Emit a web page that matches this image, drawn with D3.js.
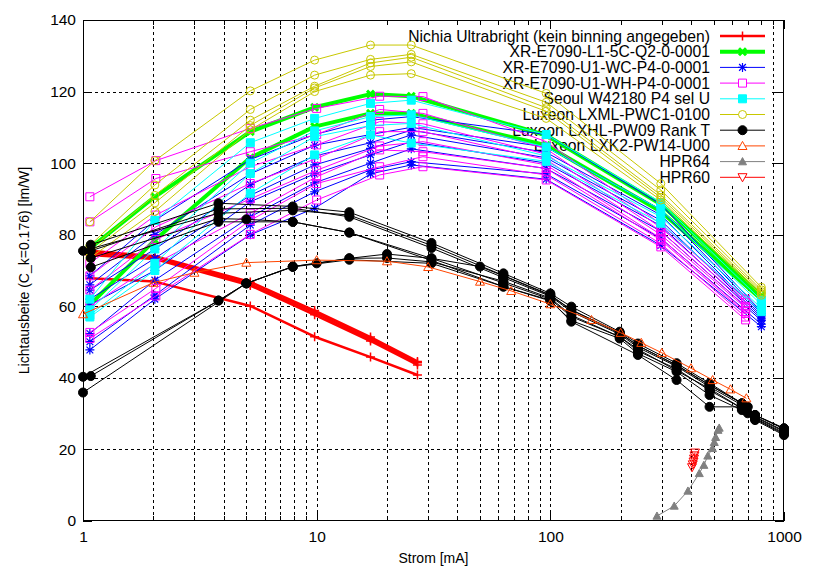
<!DOCTYPE html>
<html><head><meta charset="utf-8">
<script src="https://cdn.jsdelivr.net/npm/d3@7"></script>
<style>body{margin:0;background:#fff} svg{display:block} text{font-family:"Liberation Sans",Arial,Helvetica,sans-serif;fill:#000}</style>
</head><body><svg id="c" width="813" height="570"></svg>
<script>
// ---------------- data ----------------
const seriesNames = [
  "Nichia Ultrabright (kein binning angegeben)",
  "XR-E7090-L1-5C-Q2-0-0001",
  "XR-E7090-U1-WC-P4-0-0001",
  "XR-E7090-U1-WH-P4-0-0001",
  "Seoul W42180 P4 sel U",
  "Luxeon LXML-PWC1-0100",
  "Luxeon LXHL-PW09 Rank T",
  "Luxeon LXK2-PW14-U00",
  "HPR64",
  "HPR60"
];
const yTicks = [0, 20, 40, 60, 80, 100, 120, 140];
const xTickLabels = [1, 10, 100, 1000];

const nichiaCurrents = [1.07, 2.03, 5.2, 9.8, 17, 27];
const nichiaRuns = [
  [75.5, 74.0, 66.8, 58.8, 51.4, 44.6],
  [75.0, 73.6, 66.2, 58.2, 50.8, 44.2],
  [74.3, 73.2, 65.8, 57.6, 50.3, 43.6],
  [67.8, 66.9, 60.1, 51.5, 45.8, 40.8]
];
const xrCurrents = [1.07, 2.03, 5.2, 9.8, 17, 25.4, 96, 297, 800];
const whCurrents = [1.07, 2.05, 5.2, 10, 18.6, 28.5, 96, 297, 685];
const greenRuns = [
  [76.2, 90.6, 108.8, 115.6, 119.3, 118.7, 107.8, 88.5, 63.0],
  [60.4, 78.5, 101.5, 110.2, 113.9, 113.9, 105.0, 86.5, 62.0]
];
const blueRuns = [
  [68.5, 84.0, 101.0, 108.0, 112.0, 113.0, 108.0, 88.5, 58.5],
  [66.0, 80.0, 97.0, 105.0, 108.0, 110.0, 104.5, 87.0, 58.0],
  [64.5, 76.0, 94.0, 102.0, 105.7, 109.2, 103.0, 85.5, 57.5],
  [62.0, 73.4, 91.0, 99.5, 104.1, 107.9, 101.5, 84.0, 57.0],
  [60.4, 70.0, 89.2, 97.0, 102.3, 106.0, 100.0, 82.5, 56.5],
  [52.4, 67.3, 85.0, 94.5, 100.0, 104.0, 98.5, 81.0, 56.0],
  [50.1, 63.1, 82.7, 92.0, 98.1, 100.4, 97.0, 79.0, 55.0],
  [47.8, 62.0, 80.0, 87.4, 97.0, 99.5, 95.5, 77.0, 54.3]
];
const magentaRuns = [
  [90.6, 100.7, 109.7, 115.3, 118.7, 118.6, 106.0, 83.0, 62.0],
  [83.6, 95.7, 103.2, 108.0, 115.0, 113.9, 104.0, 82.0, 61.0],
  [72.0, 85.5, 99.0, 105.1, 111.6, 111.0, 102.5, 81.0, 60.0],
  [68.5, 82.2, 94.3, 101.3, 108.8, 108.8, 101.0, 80.0, 59.5],
  [64.5, 78.7, 90.0, 98.0, 104.8, 106.0, 99.5, 79.0, 58.5],
  [60.0, 72.0, 86.0, 96.2, 103.7, 103.2, 98.5, 78.5, 58.0],
  [52.7, 65.0, 84.0, 94.3, 99.0, 101.8, 96.7, 77.5, 57.0],
  [51.0, 62.9, 80.1, 89.7, 96.7, 99.0, 95.3, 76.6, 56.2]
];
const cyanRuns = [
  [62.0, 84.0, 105.7, 112.5, 116.7, 117.6, 108.0, 89.0, 61.7],
  [59.0, 76.0, 100.0, 109.0, 113.0, 113.5, 104.5, 87.0, 60.5],
  [57.5, 72.0, 97.1, 107.4, 110.5, 111.1, 102.0, 85.0, 59.5],
  [57.0, 70.0, 91.6, 102.3, 107.9, 105.6, 100.5, 83.2, 58.5]
];
const yellowRuns = [
  [83.6, 100.7, 120.2, 128.8, 133.0, 133.0, 119.5, 94.3, 65.3],
  [77.0, 93.9, 115.0, 124.6, 129.0, 130.4, 117.0, 92.5, 64.6],
  [76.0, 91.0, 112.0, 121.5, 128.0, 129.6, 115.5, 91.1, 64.1],
  [75.0, 88.9, 110.5, 121.0, 127.0, 128.3, 114.5, 90.4, 63.6],
  [73.5, 86.5, 109.3, 120.0, 124.6, 125.0, 112.5, 89.7, 63.1]
];
const blackRuns = [
  [[1.08,77.2],[3.8,88.8],[7.9,87.9],[13.8,86.3],[31,77.7],[63,69.2],[100,63.6],[123,59.9],[198,52.9],[237,49.6],[347,44.1],[480,38.5],[700,31.9],[752,29.6],[1000,25.7]],
  [[1.08,75.5],[3.8,87.2],[7.9,87.4],[13.8,85.0],[31,76.3],[63,68.0],[100,62.8],[123,58.5],[198,52.2],[237,48.5],[347,43.2],[480,37.5],[660,32.4],[752,29.2],[1000,25.2]],
  [[1.08,73.5],[3.8,84.5],[5,84.3],[7.9,83.6],[13.8,80.6],[31,73.4],[63,66.5],[100,62.0],[123,57.1],[198,51.5],[237,47.5],[347,42.5],[480,36.5],[660,31.5],[752,28.7],[1000,24.6]],
  [[1.08,70.9],[3.8,83.6],[7.9,83.6],[13.8,80.6],[31,72.8],[63,65.5],[100,61.7],[123,55.7],[237,46.4],[347,39.4],[480,31.9],[660,31.9],[700,30.1],[752,28.2],[1000,24.0]],
  [[1.0,75.5],[3.8,86.0],[7.9,86.8],[13.8,85.5],[31,77.0],[63,68.6],[100,63.2],[123,59.0],[198,52.6],[237,49.0],[347,43.6],[480,38.0],[660,32.9],[752,29.6],[1000,25.9]],
  [[1.0,40.3],[3.8,61.6],[5,66.4],[7.9,71.1],[10,72.0],[13.8,73.4],[20,74.6],[31,73.4],[50,71.1],[63,68.5],[100,63.0],[123,59.0],[198,52.5],[237,49.0],[347,43.5],[480,38.0],[660,32.9],[752,29.6],[1000,25.9]],
  [[1.08,40.5],[3.8,61.6],[5,66.4],[7.9,71.1],[13.8,73.4],[20,73.5],[31,72.4],[63,67.0],[100,62.3],[123,57.5],[198,51.5],[237,48.0],[347,42.0],[480,37.0],[660,31.5],[752,29.0],[1000,25.0]],
  [[1.0,35.9],[5,66.4],[7.9,71.0],[13.8,73.0],[31,72.0],[63,65.5],[100,61.5],[123,56.0],[198,51.0],[237,46.8],[347,41.7],[480,35.2],[660,31.0],[752,28.5],[1000,24.3]]
];
const lxk2Currents = [1, 2, 3, 5, 10, 20, 30, 50, 68, 100, 150, 200, 245, 300, 400, 495, 590, 690];
const lxk2Values   = [57.8, 66.6, 69.4, 72.2, 72.9, 72.6, 71.0, 66.9, 64.3, 60.6, 56.2, 52.6, 49.8, 47.0, 42.7, 39.4, 36.8, 34.3];
const hpr64Currents = [286, 339, 388, 434, 454, 472, 494, 503, 510, 522, 528];
const hpr64Values   = [1.4, 4.2, 8.4, 13.3, 15.6, 18.2, 20.3, 22.0, 23.4, 25.4, 26.0];
const hpr60Currents = [404, 407, 410, 412, 414, 416];
const hpr60Values   = [15.0, 15.8, 16.6, 17.4, 18.3, 19.1];

// ---------------- layout ----------------
const L = 83, R = 784, T = 20, B = 521;
const keyBox = {l: 307, r: 772, t: T, b: 186};
const svg = d3.select("#c");
const x = d3.scaleLog().domain([1, 1000]).range([L, R]);
const y = d3.scaleLinear().domain([0, 140]).range([B, T]);

// grid (skips key region like gnuplot)
const gridG = svg.append("g").attr("stroke", "#000").attr("stroke-width", 1)
  .attr("stroke-dasharray", "3,3").attr("shape-rendering", "crispEdges");
const xGridVals = [];
[1, 10, 100].forEach(d => { for (let k = 1; k <= 9; k++) { const v = k * d; if (v > 1 && v < 1000) xGridVals.push(v); } });
xGridVals.forEach(v => {
  const px = Math.round(x(v)) + 0.5;
  const top = (px > keyBox.l && px < keyBox.r) ? keyBox.b : T;
  gridG.append("line").attr("x1", px).attr("x2", px).attr("y1", top).attr("y2", B);
});
yTicks.filter(v => v > 0 && v < 140).forEach(v => {
  const py = Math.round(y(v)) + 0.5;
  if (py > keyBox.t && py < keyBox.b) {
    gridG.append("line").attr("x1", L).attr("x2", keyBox.l).attr("y1", py).attr("y2", py);
    gridG.append("line").attr("x1", keyBox.r).attr("x2", R).attr("y1", py).attr("y2", py);
  } else {
    gridG.append("line").attr("x1", L).attr("x2", R).attr("y1", py).attr("y2", py);
  }
});

// axes with inward ticks on all sides
const minorVals = xGridVals.filter(v => !xTickLabels.includes(v));
function styleAxis(g) { g.select(".domain").remove(); g.selectAll("line").attr("stroke", "#000").attr("shape-rendering", "crispEdges");
  g.selectAll("text").style("font-size", "15.5px").style("font-family", '"Liberation Sans",Arial,sans-serif').attr("fill", "#000"); }
svg.append("g").attr("transform", `translate(0,${B})`)
  .call(d3.axisBottom(x).tickValues(xTickLabels).tickFormat(d3.format("d")).tickSize(-9).tickPadding(10)).call(styleAxis);
svg.append("g").attr("transform", `translate(0,${B})`)
  .call(d3.axisBottom(x).tickValues(minorVals).tickFormat("").tickSize(-5)).call(styleAxis);
svg.append("g").attr("transform", `translate(0,${T})`)
  .call(d3.axisTop(x).tickValues(xTickLabels).tickFormat("").tickSize(-9)).call(styleAxis);
svg.append("g").attr("transform", `translate(0,${T})`)
  .call(d3.axisTop(x).tickValues(minorVals).tickFormat("").tickSize(-5)).call(styleAxis);
svg.append("g").attr("transform", `translate(${L},0)`)
  .call(d3.axisLeft(y).tickValues(yTicks).tickFormat(d3.format("d")).tickSize(-9).tickPadding(7)).call(styleAxis);
svg.append("g").attr("transform", `translate(${R},0)`)
  .call(d3.axisRight(y).tickValues(yTicks).tickFormat("").tickSize(-9)).call(styleAxis);

svg.append("rect").attr("x", L + 0.5).attr("y", T + 0.5).attr("width", R - L - 1).attr("height", B - T - 1)
  .attr("fill", "none").attr("stroke", "#000").attr("stroke-width", 1).attr("shape-rendering", "crispEdges");

svg.append("text").attr("x", (L + R) / 2).attr("y", 563).attr("text-anchor", "middle")
  .style("font-size", "14px").text("Strom [mA]");
svg.append("text").attr("transform", `translate(29,${(T + B) / 2}) rotate(-90)`).attr("text-anchor", "middle")
  .style("font-size", "14px").text("Lichtausbeite (C_k=0.176) [lm/W]");

// ---------------- symbols ----------------
function shapePath(t, s) {
  switch (t) {
    case "plus": return `M${-s},0H${s}M0,${-s}V${s}`;
    case "cross": return `M${-s},${-s}L${s},${s}M${-s},${s}L${s},${-s}`;
    case "star": return `M${-s},0H${s}M0,${-s}V${s}M${-s*0.75},${-s*0.75}L${s*0.75},${s*0.75}M${-s*0.75},${s*0.75}L${s*0.75},${-s*0.75}`;
    case "sq": return `M${-s},${-s}H${s}V${s}H${-s}Z`;
    case "circ": { const p = d3.path(); p.arc(0, 0, s, 0, 2 * Math.PI); p.closePath(); return p.toString(); }
    case "tri": return `M0,${-s}L${s},${s*0.8}L${-s},${s*0.8}Z`;
    case "itri": return `M0,${s}L${s},${-s*0.8}L${-s},${-s*0.8}Z`;
  }
}
const styles = [
  {color: "#ff0000", lw: 2.5, pt: "plus", fill: false, s: 4.5, pw: 1.5},
  {color: "#00ff00", lw: 4, pt: "cross", fill: false, s: 3.5, pw: 3},
  {color: "#0000ff", lw: 1, pt: "star", fill: false, s: 4.5, pw: 1.2},
  {color: "#ff00ff", lw: 1, pt: "sq", fill: false, s: 4, pw: 1},
  {color: "#00ffff", lw: 1, pt: "sq", fill: true, s: 4, pw: 1},
  {color: "#c8c800", lw: 1, pt: "circ", fill: false, s: 4, pw: 1},
  {color: "#000000", lw: 1, pt: "circ", fill: true, s: 4.5, pw: 1},
  {color: "#ff4500", lw: 1, pt: "tri", fill: false, s: 4.5, pw: 1},
  {color: "#808080", lw: 1, pt: "tri", fill: true, s: 4, pw: 1},
  {color: "#ff0000", lw: 1, pt: "itri", fill: false, s: 4.5, pw: 1}
];

// ---------------- key ----------------
const keyG = svg.append("g");
seriesNames.forEach((n, i) => {
  const cy = 36 + 15.7 * i;
  keyG.append("text").attr("x", 710).attr("y", cy + 5.5).attr("text-anchor", "end").style("font-size", "15.7px").text(n);
  const st = styles[i];
  keyG.append("line").attr("x1", 720).attr("x2", 765).attr("y1", cy).attr("y2", cy)
    .attr("stroke", st.color).attr("stroke-width", st.lw);
  keyG.append("path").attr("d", shapePath(st.pt, st.s)).attr("transform", `translate(742.5,${cy})`)
    .attr("fill", st.fill ? st.color : (st.pt === "sq" || st.pt === "circ" || st.pt.includes("tri")) ? "#fff" : "none")
    .attr("stroke", st.color).attr("stroke-width", st.pw);
});

// ---------------- data marks ----------------
const line = d3.line().x(d => x(d[0])).y(d => y(d[1]));
function drawSeries(i, runs) {
  const st = styles[i];
  const g = svg.append("g");
  g.selectAll("path.ln").data(runs).join("path").attr("class", "ln").attr("d", line)
    .attr("fill", "none").attr("stroke", st.color).attr("stroke-width", st.lw).attr("stroke-linejoin", "round");
  const pts = runs.flat();
  g.selectAll("path.pt").data(pts).join("path").attr("class", "pt")
    .attr("d", shapePath(st.pt, st.s)).attr("transform", d => `translate(${x(d[0])},${y(d[1])})`)
    .attr("fill", st.fill ? st.color : "none").attr("stroke", st.color).attr("stroke-width", st.pw);
}
const zipRuns = (xs, runs) => runs.map(r => r.map((v, k) => [xs[k], v]));
drawSeries(0, zipRuns(nichiaCurrents, nichiaRuns));
drawSeries(1, zipRuns(xrCurrents, greenRuns));
drawSeries(2, zipRuns(xrCurrents, blueRuns));
drawSeries(3, zipRuns(whCurrents, magentaRuns));
drawSeries(4, zipRuns(xrCurrents, cyanRuns));
drawSeries(5, zipRuns(xrCurrents, yellowRuns));
drawSeries(6, blackRuns);
drawSeries(7, [lxk2Currents.map((c, k) => [c, lxk2Values[k]])]);
drawSeries(8, [hpr64Currents.map((c, k) => [c, hpr64Values[k]])]);
drawSeries(9, [hpr60Currents.map((c, k) => [c, hpr60Values[k]])]);
</script></body></html>
